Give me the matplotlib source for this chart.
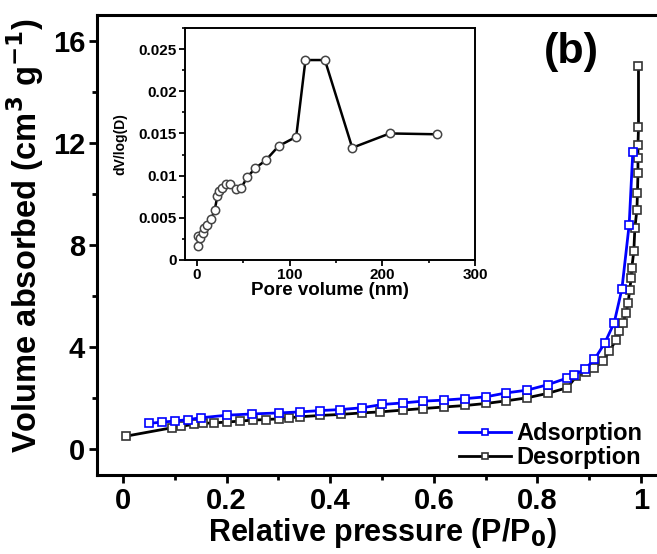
import matplotlib
matplotlib.use("Agg")
import matplotlib.pyplot as plt
import numpy as np
from matplotlib.ticker import MultipleLocator

plt.rcParams['font.family'] = ['Liberation Sans', 'DejaVu Sans']
plt.rcParams['font.weight'] = 'bold'
plt.rcParams['mathtext.default'] = 'bf'

# isotherm, adsorption branch
ads_p = [0.051, 0.075, 0.100, 0.126, 0.151, 0.201, 0.250, 0.302, 0.342, 0.380, 0.419, 0.461,
         0.501, 0.540, 0.579, 0.619, 0.661, 0.701, 0.739, 0.780, 0.821, 0.858, 0.871, 0.891,
         0.910, 0.930, 0.948, 0.963, 0.977, 0.984]
ads_v = [1.02, 1.07, 1.11, 1.17, 1.24, 1.34, 1.39, 1.43, 1.47, 1.52, 1.56, 1.63,
         1.76, 1.82, 1.89, 1.93, 1.99, 2.06, 2.21, 2.32, 2.54, 2.80, 2.93, 3.13,
         3.52, 4.17, 4.95, 6.28, 8.79, 11.63]

# desorption branch
des_p = [0.006, 0.095, 0.112, 0.138, 0.154, 0.176, 0.200, 0.226, 0.252, 0.276, 0.302, 0.321,
         0.342, 0.381, 0.420, 0.461, 0.497, 0.540, 0.579, 0.619, 0.661, 0.701, 0.739, 0.780,
         0.821, 0.858, 0.875, 0.894, 0.910, 0.926, 0.939, 0.952, 0.958, 0.965, 0.971, 0.975,
         0.978, 0.981, 0.982, 0.986, 0.988, 0.992, 0.993, 0.994, 0.994, 0.994, 0.995, 0.995]
des_v = [0.52, 0.85, 0.91, 0.98, 1.02, 1.04, 1.07, 1.11, 1.15, 1.17, 1.20, 1.24,
         1.28, 1.33, 1.37, 1.43, 1.47, 1.54, 1.60, 1.66, 1.72, 1.80, 1.90, 2.02,
         2.20, 2.42, 2.86, 3.02, 3.19, 3.45, 3.84, 4.30, 4.62, 4.95, 5.34, 5.73,
         6.25, 6.71, 7.10, 7.75, 8.66, 9.38, 10.03, 10.80, 11.40, 11.90, 12.60, 15.00]

# pore size distribution (inset)
pore_d = [1, 1, 3.5, 6, 8, 11, 15.5, 19, 22, 24, 27, 31, 36, 42.5, 47.5, 54, 63, 74, 88,
          107, 117, 138, 167.5, 208, 259]
pore_dv = [0.0017, 0.0028, 0.0026, 0.0032, 0.0038, 0.0042, 0.0049, 0.0059, 0.0076, 0.0082,
           0.0085, 0.0090, 0.0090, 0.0084, 0.0085, 0.0098, 0.0109, 0.0118, 0.0135,
           0.0146, 0.0237, 0.0237, 0.0133, 0.0150, 0.0149]

fig = plt.figure(figsize=(6.57, 5.54), dpi=100)
ax = fig.add_axes([0.1476, 0.1426, 0.8676, 0.8303])

ax.plot(ads_p, ads_v, color='blue', lw=2, marker='s', ms=6, mfc='white', mec='blue',
        mew=1.2, label='Adsorption', zorder=3)
ax.plot(des_p, des_v, color='black', lw=2, marker='s', ms=6, mfc='white', mec='#333333',
        mew=1.2, label='Desorption', zorder=2)

ax.set_xlim(-0.05, 1.05)
ax.set_ylim(-1, 17)
ax.set_xticks([0, 0.2, 0.4, 0.6, 0.8, 1.0])
ax.set_xticklabels(['0', '0.2', '0.4', '0.6', '0.8', '1'])
ax.set_yticks([0, 4, 8, 12, 16])
ax.xaxis.set_minor_locator(MultipleLocator(0.1))
ax.yaxis.set_minor_locator(MultipleLocator(2))
ax.tick_params(which='major', direction='out', length=5.5, width=2, labelsize=21, pad=3)
ax.tick_params(which='minor', direction='out', length=3.5, width=2)
for s in ax.spines.values():
    s.set_linewidth(2.2)
ax.set_xlabel('Relative pressure (P/P$_0$)', fontsize=22, fontweight='bold', labelpad=1)
ax.set_ylabel('Volume absorbed (cm$^3$ g$^{-1}$)', fontsize=23.5, fontweight='bold')
ax.yaxis.set_label_coords(-0.09, 0.52)
ax.text(0.865, 15.55, '(b)', fontsize=31, fontweight='bold', ha='center', va='center')

leg = ax.legend(loc='lower right', bbox_to_anchor=(642 / 657, 85 / 554),
                bbox_transform=fig.transFigure, frameon=False, fontsize=17,
                handlelength=2.2, handletextpad=0.2, labelspacing=0.05,
                borderaxespad=0, borderpad=0, markerscale=0.8)

# inset
axi = fig.add_axes([0.2816, 0.5307, 0.4414, 0.4188])
axi.plot(pore_d, pore_dv, color='black', lw=1.8, marker='o', ms=6, mfc='white', mec='#444444',
         mew=1.1)
axi.set_xlim(-13, 300)
axi.set_ylim(0, 0.0275)
axi.set_xticks([0, 100, 200, 300])
axi.set_yticks([0, 0.005, 0.01, 0.015, 0.02, 0.025])
axi.set_yticklabels(['0', '0.005', '0.01', '0.015', '0.02', '0.025'])
axi.xaxis.set_minor_locator(MultipleLocator(50))
axi.yaxis.set_minor_locator(MultipleLocator(0.0025))
axi.tick_params(which='major', direction='out', length=4, width=1.3, labelsize=11, pad=2)
axi.tick_params(which='minor', direction='out', length=2, width=1.2)
for s in axi.spines.values():
    s.set_linewidth(1.4)
axi.set_xlabel('Pore volume (nm)', fontsize=13.5, fontweight='bold', labelpad=0)
axi.set_ylabel('dV/log(D)', fontsize=10, fontweight='bold', labelpad=8)

fig.savefig('out.png', dpi=100)
